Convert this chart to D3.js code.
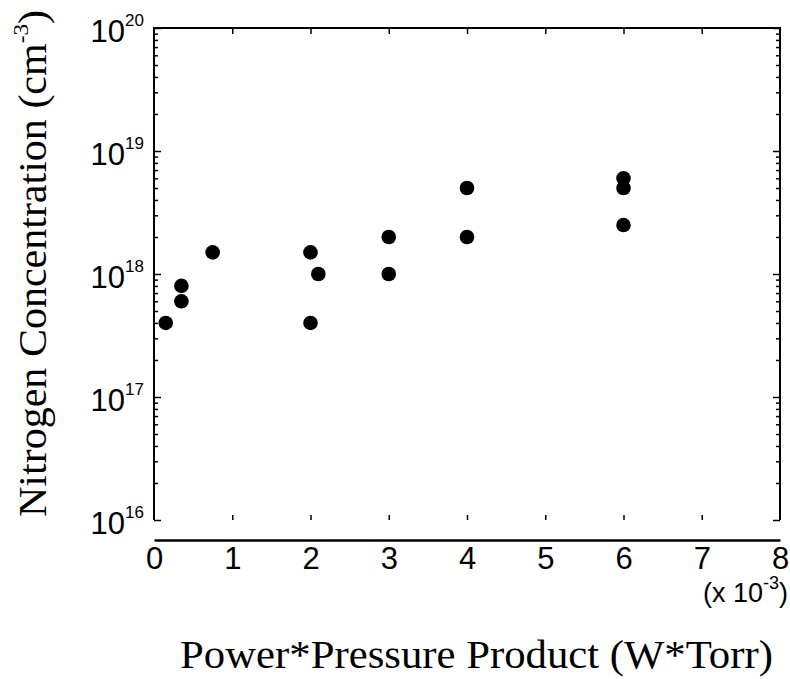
<!DOCTYPE html>
<html>
<head>
<meta charset="utf-8">
<script src="https://cdn.jsdelivr.net/npm/d3@7"></script>
<style>
  html, body { margin: 0; padding: 0; background: #fff; }
  svg { display: block; }
</style>
</head>
<body>
<svg id="chart" width="790" height="679"></svg>
<script>
// ---- data (x in units of 1e-3 W*Torr, y in cm^-3) ----
const powerPressure = [0.15, 0.35, 0.35, 0.75, 2.0, 2.1, 2.0, 3.0, 3.0, 4.0, 4.0, 6.0, 6.0, 6.0];
const nitrogenConc  = [4e17, 8e17, 6e17, 1.5e18, 1.5e18, 1e18, 4e17, 2e18, 1e18, 5e18, 2e18, 6e18, 5e18, 2.5e18];
const xTicks = [0, 1, 2, 3, 4, 5, 6, 7, 8];
const yDecades = [16, 17, 18, 19, 20];
const xTitle = "Power*Pressure Product (W*Torr)";
const yTitle = "Nitrogen Concentration (cm";
const ySup = "-3";

(function () {
const svg = d3.select("#chart");
const pL = 154, pR = 780, pT = 28, pB = 520, xAxisY = 540;
const sans = "'Liberation Sans', Arial, sans-serif";
const serif = "'Liberation Serif', 'Times New Roman', serif";

const x = d3.scaleLinear().domain([0, 8]).range([pL, pR]);
const y = d3.scaleLog().domain([1e16, 1e20]).range([pB, pT]);

const majorY = yDecades.map(d => Math.pow(10, d));
const minorY = [];
for (let e = 16; e < 20; e++) for (let m = 2; m <= 9; m++) minorY.push(m * Math.pow(10, e));

function clean(g) { g.select(".domain").remove(); g.selectAll("line").attr("stroke", "#000").attr("stroke-width", 1.5); }

// left axis ticks (inward)
svg.append("g").attr("transform", `translate(${pL},0)`)
  .call(d3.axisLeft(y).tickValues(majorY).tickSize(-7).tickFormat(""))
  .call(clean);
svg.append("g").attr("transform", `translate(${pL},0)`)
  .call(d3.axisLeft(y).tickValues(minorY).tickSize(-4).tickFormat(""))
  .call(clean);
// right axis ticks (inward)
svg.append("g").attr("transform", `translate(${pR},0)`)
  .call(d3.axisRight(y).tickValues(majorY).tickSize(-7).tickFormat(""))
  .call(clean);
svg.append("g").attr("transform", `translate(${pR},0)`)
  .call(d3.axisRight(y).tickValues(minorY).tickSize(-4).tickFormat(""))
  .call(clean);
// bottom ticks (inward, at y=pB)
svg.append("g").attr("transform", `translate(0,${pB})`)
  .call(d3.axisBottom(x).tickValues(xTicks.slice(1, -1)).tickSize(-5).tickFormat(""))
  .call(clean);
// top ticks (inward)
svg.append("g").attr("transform", `translate(0,${pT})`)
  .call(d3.axisTop(x).tickValues(xTicks.slice(1, -1)).tickSize(-6).tickFormat(""))
  .call(clean);

// frame: left, top, right
svg.append("path")
  .attr("d", `M${pL},${pB}V${pT}H${pR}V${pB}`)
  .attr("fill", "none").attr("stroke", "#000").attr("stroke-width", 2);

// detached x axis line with labels
const xg = svg.append("g").attr("transform", `translate(0,${xAxisY})`)
  .call(d3.axisBottom(x).tickValues(xTicks).tickSize(0).tickPadding(0).tickFormat(d3.format("d")));
xg.select(".domain").attr("stroke", "#000").attr("stroke-width", 2.5);
xg.selectAll("text")
  .attr("font-family", sans)
  .attr("font-size", 31).attr("fill", "#000")
  .attr("dy", null).attr("y", 29);

// multiplier label
const mult = svg.append("text")
  .attr("x", 788).attr("y", 602).attr("text-anchor", "end")
  .attr("font-family", sans).attr("font-size", 27);
mult.append("tspan").text("(x 10");
mult.append("tspan").attr("font-size", 18).attr("dy", -13).text("-3");
mult.append("tspan").attr("dy", 13).text(")");

// y tick labels 10^n
yDecades.forEach(e => {
  const t = svg.append("text")
    .attr("x", 144).attr("y", y(Math.pow(10, e)) + 14)
    .attr("text-anchor", "end")
    .attr("font-family", sans).attr("font-size", 31);
  t.append("tspan").text("10");
  t.append("tspan").attr("font-size", 17).attr("dy", -16).text(String(e));
});

// data points
svg.append("g").selectAll("circle")
  .data(powerPressure.map((v, i) => [v, nitrogenConc[i]]))
  .join("circle")
  .attr("cx", d => x(d[0])).attr("cy", d => y(d[1]))
  .attr("r", 7.3).attr("fill", "#000");

// axis titles, stretched horizontally to the reference extents
function fit(sel, base, target) {
  const w = sel.node().getComputedTextLength();
  sel.attr("transform", `${base} scale(${target / w},1)`);
}
const xt = svg.append("text")
  .attr("x", 0).attr("y", 0).attr("text-anchor", "middle")
  .attr("font-family", serif).attr("font-size", 41)
  .text(xTitle);
fit(xt, "translate(476.5,668)", 593);

const yt = svg.append("text")
  .attr("x", 0).attr("y", 0).attr("text-anchor", "middle")
  .attr("font-family", serif).attr("font-size", 40);
yt.append("tspan").text(yTitle);
yt.append("tspan").attr("font-size", 22).attr("dy", -18).text(ySup);
yt.append("tspan").attr("dy", 18).text(")");
fit(yt, "translate(46,263.5) rotate(-90)", 507);
})();
</script>
</body>
</html>
